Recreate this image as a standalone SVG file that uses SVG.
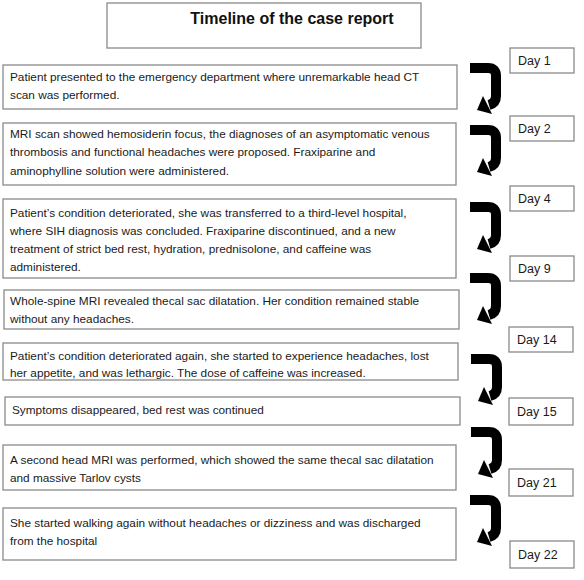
<svg xmlns="http://www.w3.org/2000/svg" xmlns:xlink="http://www.w3.org/1999/xlink" width="584" height="580" viewBox="0 0 584 580">
<style>
.box{fill:#fff;stroke:#8a8a8a;stroke-width:1.3}
.t{font-family:"Liberation Sans",Arial,sans-serif;font-size:11.8px;fill:#1a1a1a}
.d{font-family:"Liberation Sans",Arial,sans-serif;font-size:12.5px;fill:#1a1a1a}
.title{font-family:"Liberation Sans",Arial,sans-serif;font-size:16px;font-weight:bold;fill:#111;text-anchor:middle}
</style>
<defs>
<g id="arrow">
<path d="M0,5 H18 Q26,5 26,13 V33 Q26,40 19,42" fill="none" stroke="#000" stroke-width="10"/>
<polygon points="7,47 13,33 22,51" fill="#000"/>
</g>
</defs>
<rect width="584" height="580" fill="#fff"/>
<g id="title">
<rect class="box" x="107" y="3" width="314" height="45"/>
<text class="title" x="292" y="24">Timeline of the case report</text>
</g>
<g id="connectors">
<use xlink:href="#arrow" href="#arrow" transform="translate(470,63)"/>
<use xlink:href="#arrow" href="#arrow" transform="translate(470,125)"/>
<use xlink:href="#arrow" href="#arrow" transform="translate(470,202)"/>
<use xlink:href="#arrow" href="#arrow" transform="translate(470,273)"/>
<use xlink:href="#arrow" href="#arrow" transform="translate(471,354)"/>
<use xlink:href="#arrow" href="#arrow" transform="translate(471,427)"/>
<use xlink:href="#arrow" href="#arrow" transform="translate(470,495)"/>
</g>
<g id="event1">
<rect class="box" x="3" y="65" width="454" height="44"/>
<text class="t" x="10" y="81">Patient presented to the emergency department where unremarkable head CT</text>
<text class="t" x="10" y="99">scan was performed.</text>
</g>
<g id="event2">
<rect class="box" x="3" y="123" width="453" height="62"/>
<text class="t" x="10" y="138">MRI scan showed hemosiderin focus, the diagnoses of an asymptomatic venous</text>
<text class="t" x="10" y="156">thrombosis and functional headaches were proposed. Fraxiparine and</text>
<text class="t" x="10" y="175">aminophylline solution were administered.</text>
</g>
<g id="event3">
<rect class="box" x="3" y="199" width="453" height="79"/>
<text class="t" x="10" y="217">Patient’s condition deteriorated, she was transferred to a third-level hospital,</text>
<text class="t" x="10" y="235">where SIH diagnosis was concluded. Fraxiparine discontinued, and a new</text>
<text class="t" x="10" y="253">treatment of strict bed rest, hydration, prednisolone, and caffeine was</text>
<text class="t" x="10" y="271">administered.</text>
</g>
<g id="event4">
<rect class="box" x="4" y="290" width="455" height="39"/>
<text class="t" x="10" y="305">Whole-spine MRI revealed thecal sac dilatation. Her condition remained stable</text>
<text class="t" x="10" y="323">without any headaches.</text>
</g>
<g id="event5">
<rect class="box" x="3" y="343" width="455" height="37"/>
<text class="t" x="10" y="360">Patient’s condition deteriorated again, she started to experience headaches, lost</text>
<text class="t" x="10" y="377">her appetite, and was lethargic. The dose of caffeine was increased.</text>
</g>
<g id="event6">
<rect class="box" x="5" y="397" width="455" height="28"/>
<text class="t" x="12" y="414">Symptoms disappeared, bed rest was continued</text>
</g>
<g id="event7">
<rect class="box" x="3" y="445" width="453" height="45"/>
<text class="t" x="10" y="464">A second head MRI was performed, which showed the same thecal sac dilatation</text>
<text class="t" x="10" y="482">and massive Tarlov cysts</text>
</g>
<g id="event8">
<rect class="box" x="3" y="508" width="453" height="52"/>
<text class="t" x="10" y="527">She started walking again without headaches or dizziness and was discharged</text>
<text class="t" x="10" y="545">from the hospital</text>
</g>
<g id="day1"><rect class="box" x="510" y="48" width="64" height="25"/><text class="d" x="518" y="65">Day 1</text></g>
<g id="day2"><rect class="box" x="510" y="116" width="64" height="25"/><text class="d" x="518" y="133">Day 2</text></g>
<g id="day4"><rect class="box" x="510" y="186" width="64" height="25"/><text class="d" x="518" y="203">Day 4</text></g>
<g id="day9"><rect class="box" x="510" y="256" width="64" height="25"/><text class="d" x="518" y="273">Day 9</text></g>
<g id="day14"><rect class="box" x="509" y="327" width="64" height="25"/><text class="d" x="517" y="344">Day 14</text></g>
<g id="day15"><rect class="box" x="509" y="398" width="64" height="27"/><text class="d" x="517" y="416">Day 15</text></g>
<g id="day21"><rect class="box" x="509" y="469" width="64" height="27"/><text class="d" x="517" y="487">Day 21</text></g>
<g id="day22"><rect class="box" x="510" y="541" width="64" height="27"/><text class="d" x="518" y="559">Day 22</text></g>
</svg>
